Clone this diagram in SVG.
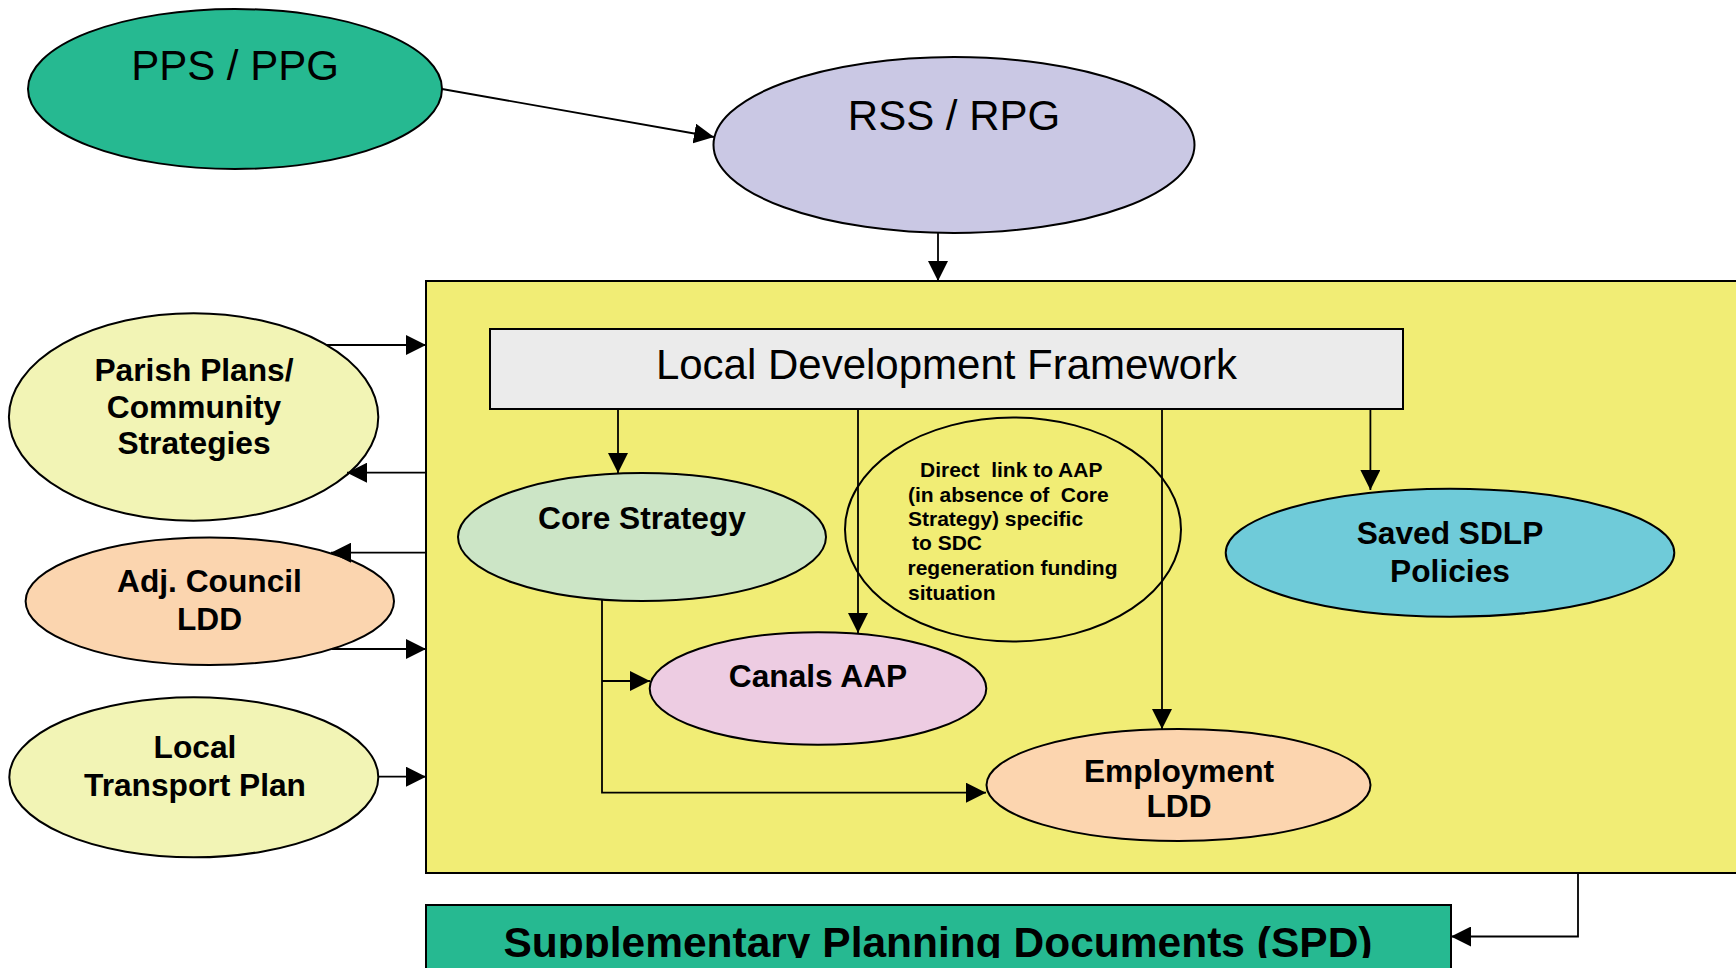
<svg xmlns="http://www.w3.org/2000/svg" width="1736" height="968" viewBox="0 0 1736 968">
<style>
.n{stroke:#000;stroke-width:2}
.t{font-family:"Liberation Sans",Arial,sans-serif;fill:#000;text-anchor:middle}
.r{font-size:42px}
.b{font-size:31.7px;font-weight:bold}
.s{font-family:"Liberation Sans",Arial,sans-serif;fill:#000;font-size:21px;font-weight:bold;white-space:pre}
.c{stroke:#000;stroke-width:1.8;fill:none}
</style>
<defs>
<marker id="ah" markerUnits="userSpaceOnUse" markerWidth="20" markerHeight="20" refX="20" refY="10" orient="auto">
<path d="M0,0 L20,10 L0,20 z" fill="#000"/>
</marker>
<clipPath id="clipDirect"><rect x="840" y="440" width="278" height="180"/></clipPath>
<clipPath id="clipSpd"><rect x="426" y="905" width="1025" height="53"/></clipPath>
</defs>
<rect width="1736" height="968" fill="#fff"/>

<g id="ldf-container">
<rect x="426" y="281" width="1320" height="592" fill="#F1ED75" class="n"/>
</g>

<g id="spd">
<rect x="426" y="905" width="1025" height="80" fill="#26B991" class="n"/>
<text class="t" x="938" y="957" font-size="42.5" font-weight="bold" clip-path="url(#clipSpd)">Supplementary Planning Documents (SPD)</text>
</g>

<g id="pps">
<ellipse cx="235" cy="89" rx="207" ry="80" fill="#26B991" class="n"/>
<text class="t r" x="235" y="79.5">PPS / PPG</text>
</g>

<g id="rss">
<ellipse cx="954" cy="145" rx="240.5" ry="88" fill="#CAC8E4" class="n"/>
<text class="t r" x="954" y="130">RSS / RPG</text>
</g>

<g id="parish">
<ellipse cx="193.6" cy="417" rx="184.7" ry="103.7" fill="#F2F4B5" class="n"/>
<text class="t b" x="194" y="380.7">Parish Plans/</text>
<text class="t b" x="194" y="417.7">Community</text>
<text class="t b" x="194" y="454.3">Strategies</text>
</g>

<g id="adj-council">
<ellipse cx="209.8" cy="601.3" rx="184.2" ry="63.7" fill="#FBD5AF" class="n"/>
<text class="t b" x="209.5" y="592.3">Adj. Council</text>
<text class="t b" x="209.5" y="630">LDD</text>
</g>

<g id="transport">
<ellipse cx="193.8" cy="777.3" rx="184.5" ry="80" fill="#F2F4B5" class="n"/>
<text class="t b" x="195" y="757.7">Local</text>
<text class="t b" x="195" y="795.7">Transport Plan</text>
</g>

<g id="ldf">
<rect x="490" y="329" width="913" height="80" fill="#EBEBEB" class="n"/>
<text class="t r" x="946.5" y="379">Local Development Framework</text>
</g>

<g id="core">
<ellipse cx="642" cy="537" rx="184" ry="64" fill="#CCE5C6" class="n"/>
<text class="t b" x="642" y="529.3">Core Strategy</text>
</g>

<g id="direct-link">
<ellipse cx="1013" cy="529.5" rx="168" ry="112" fill="none" class="n"/>
<g clip-path="url(#clipDirect)">
<text class="s" x="920" y="477.3" xml:space="preserve">Direct  link to AAP</text>
<text class="s" x="908" y="501.7" xml:space="preserve">(in absence of  Core</text>
<text class="s" x="908" y="526">Strategy) specific</text>
<text class="s" x="912" y="550.3">to SDC</text>
<text class="s" x="907.5" y="575.3">regeneration funding</text>
<text class="s" x="908" y="599.5">situation</text>
</g>
</g>

<g id="canals">
<ellipse cx="818" cy="688.5" rx="168.3" ry="56.3" fill="#EDCCE2" class="n"/>
<text class="t b" x="818" y="687.3">Canals AAP</text>
</g>

<g id="employment">
<ellipse cx="1178.5" cy="785" rx="192" ry="56" fill="#FCD5AF" class="n"/>
<text class="t b" x="1179" y="781.7">Employment</text>
<text class="t b" x="1179" y="816.7">LDD</text>
</g>

<g id="sdlp">
<ellipse cx="1450" cy="552.7" rx="224.3" ry="64" fill="#6FCBD9" class="n"/>
<text class="t b" x="1450" y="544">Saved SDLP</text>
<text class="t b" x="1450" y="581.7">Policies</text>
</g>

<g id="connectors" class="c">
<line x1="442" y1="89" x2="714" y2="137" marker-end="url(#ah)"/>
<line x1="938" y1="233" x2="938" y2="281" marker-end="url(#ah)"/>
<line x1="327" y1="345" x2="426" y2="345" marker-end="url(#ah)"/>
<line x1="426" y1="472.7" x2="347" y2="472.7" marker-end="url(#ah)"/>
<line x1="426" y1="552.7" x2="331" y2="552.7" marker-end="url(#ah)"/>
<line x1="332" y1="649" x2="426" y2="649" marker-end="url(#ah)"/>
<line x1="378.3" y1="776.7" x2="426" y2="776.7" marker-end="url(#ah)"/>
<line x1="618" y1="409" x2="618" y2="473" marker-end="url(#ah)"/>
<line x1="858" y1="409" x2="858" y2="633" marker-end="url(#ah)"/>
<line x1="1162" y1="409" x2="1162" y2="729" marker-end="url(#ah)"/>
<line x1="1370.4" y1="409" x2="1370.4" y2="490" marker-end="url(#ah)"/>
<polyline points="602,600 602,792.7 986,792.7" marker-end="url(#ah)"/>
<line x1="602" y1="681" x2="650" y2="681" marker-end="url(#ah)"/>
<polyline points="1578,873 1578,936.5 1451,936.5" marker-end="url(#ah)"/>
</g>
</svg>
